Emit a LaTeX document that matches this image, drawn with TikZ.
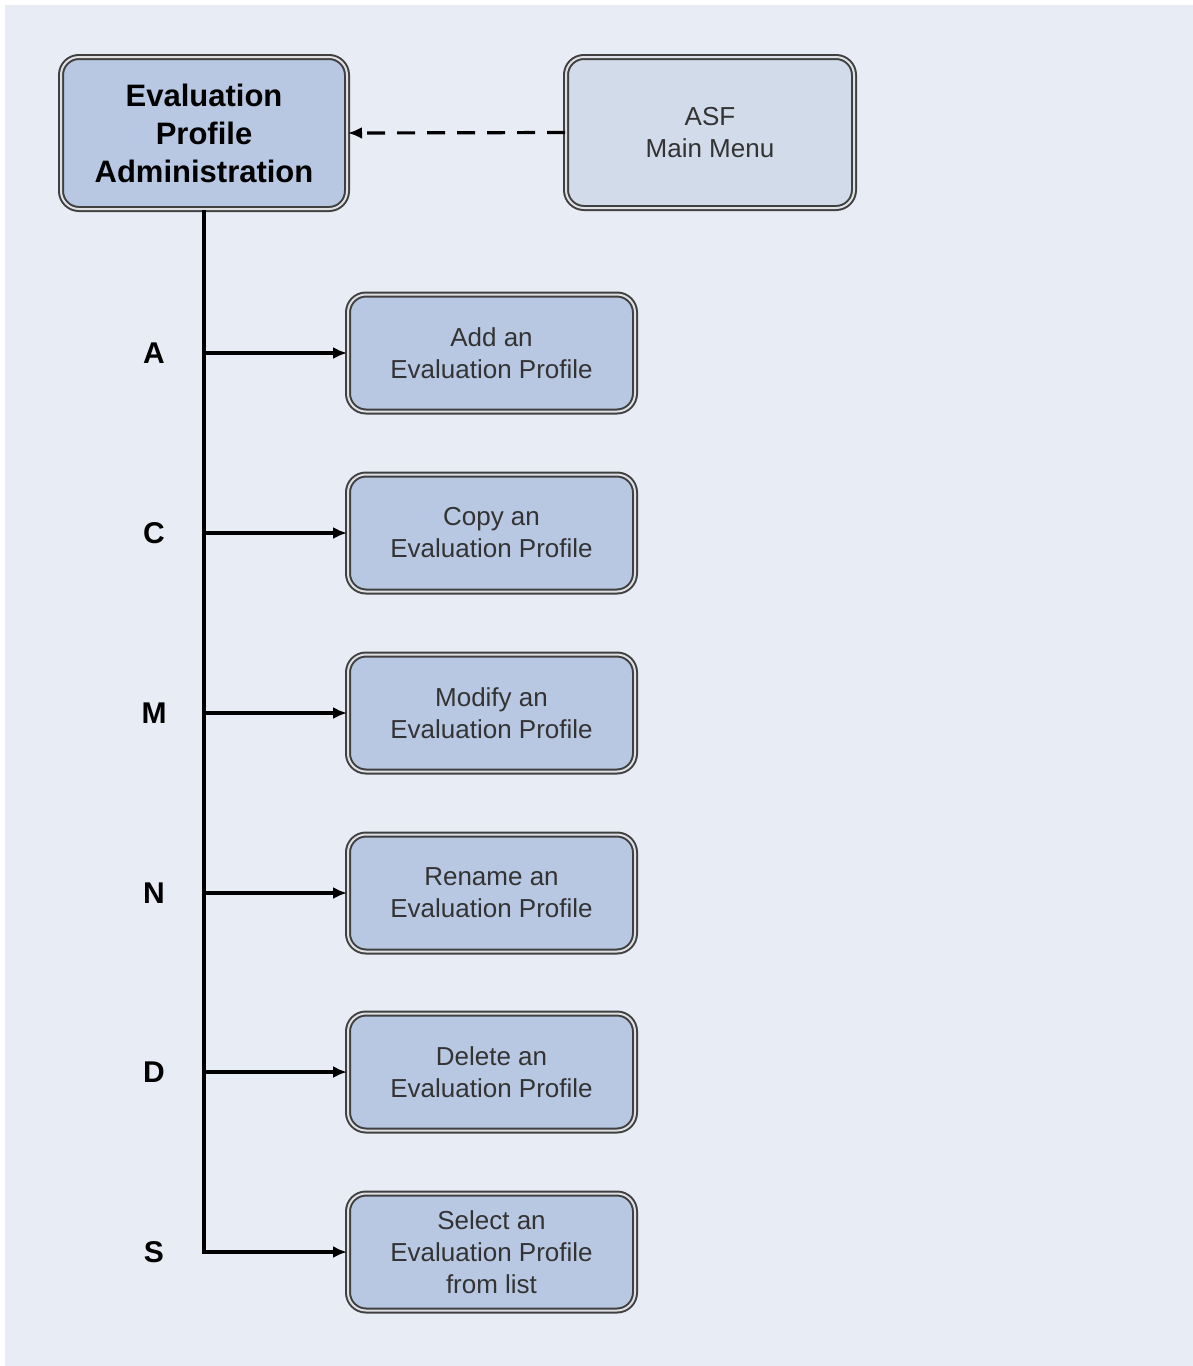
\documentclass[tikz,border=0pt]{standalone}
\usepackage{fontspec}
\setmainfont{Liberation Sans}
\usetikzlibrary{arrows.meta}
\definecolor{panelbg}{HTML}{E8ECF4}
\definecolor{boxfill}{HTML}{B8C8E2}
\definecolor{menufill}{HTML}{D2DBEA}
\definecolor{boxline}{HTML}{404040}
\def\drawbranch{\draw[line width=1.6pt, -{Latex[length=7pt,width=6pt]}]}

\begin{document}
\begin{tikzpicture}[x=0.5pt,y=-0.5pt,
  menubox/.style={rounded corners=9pt, draw=boxline, double=panelbg!70!gray!60!white, double distance=1pt, line width=1pt, fill=boxfill, align=center, minimum width=143.5pt, minimum height=58.5pt, inner sep=0pt, text=black!80, font=\fontsize{13}{16}\selectfont},
  keylabel/.style={font=\bfseries\fontsize{15}{18}\selectfont}]
\useasboundingbox (0,0) rectangle (1193,1366);
\fill[panelbg] (5,5) rectangle (1193,1366);

\node[menubox, minimum width=143pt, minimum height=76pt, text=black, font=\bfseries\fontsize{15.5}{19}\selectfont] (admin) at (204,133) {Evaluation\\Profile\\Administration};
\node[menubox, minimum width=144pt, minimum height=75.5pt, fill=menufill] (asf) at (710,132.5) {ASF\\Main Menu};

\node[menubox] (add) at (491.5,353) {Add an\\Evaluation Profile};
\node[menubox] (copy) at (491.5,533) {Copy an\\Evaluation Profile};
\node[menubox] (modify) at (491.5,713) {Modify an\\Evaluation Profile};
\node[menubox] (rename) at (491.5,893) {Rename an\\Evaluation Profile};
\node[menubox] (delete) at (491.5,1072) {Delete an\\Evaluation Profile};
\node[menubox] (select) at (491.5,1252) {Select an\\Evaluation Profile\\from list};

\node[keylabel] (keyA) at (154,353) {A};
\node[keylabel] (keyC) at (154,533) {C};
\node[keylabel] (keyM) at (154,713) {M};
\node[keylabel] (keyN) at (154,893) {N};
\node[keylabel] (keyD) at (154,1072) {D};
\node[keylabel] (keyS) at (154,1252) {S};

\coordinate (corner) at (admin.south |- select.west);
\draw[line width=1.6pt, dash pattern=on 9pt off 6pt, -{Latex[length=7pt,width=6pt]}] (asf.west) -- (admin.east);
\drawbranch[line width=1.9pt] (admin.south) -- (corner) -- (select.west);
\drawbranch (admin.south |- add.west) -- (add.west);
\drawbranch (admin.south |- copy.west) -- (copy.west);
\drawbranch (admin.south |- modify.west) -- (modify.west);
\drawbranch (admin.south |- rename.west) -- (rename.west);
\drawbranch (admin.south |- delete.west) -- (delete.west);
\end{tikzpicture}
\end{document}
